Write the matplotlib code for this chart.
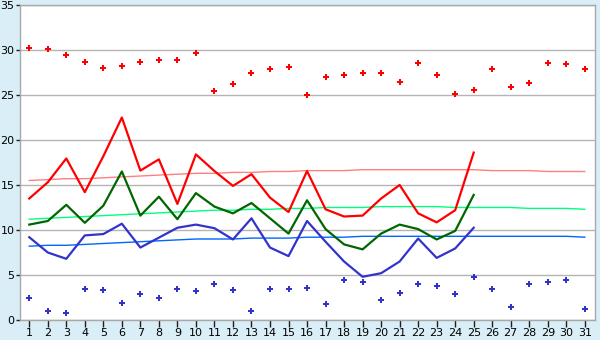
import matplotlib
matplotlib.use("Agg")
import matplotlib.pyplot as plt

days = list(range(1, 32))

record_max = [30.2, 30.1, 29.5, 28.7, 28.0, 28.2, 28.7, 28.9, 28.85, 29.7,
              25.4, 26.2, 27.4, 27.85, 28.1, 25.0, 27.0, 27.2, 27.4, 27.4,
              26.4, 28.55, 27.2, 25.1, 25.6, 27.85, 25.85, 26.3, 28.6, 28.5, 27.85]
record_min = [2.5, 0.95, 0.75, 3.5, 3.3, 1.85, 2.85, 2.4, 3.5, 3.2,
              3.95, 3.3, 1.05, 3.5, 3.5, 3.6, 1.75, 4.5, 4.25, 2.2,
              2.95, 4.05, 3.75, 2.85, 4.75, 3.4, 1.4, 3.95, 4.2, 4.5, 1.2]

obs_days = list(range(1, 26))
obs_max = [13.5, 15.3, 17.95, 14.2, 18.2, 22.5, 16.6, 17.85, 12.9, 18.4,
           16.55, 14.9, 16.2, 13.6, 12.0, 16.55, 12.3, 11.5, 11.6, 13.5,
           15.0, 11.85, 10.85, 12.2, 18.6]
obs_mean = [10.6, 11.0, 12.8, 10.8, 12.7, 16.5, 11.6, 13.7, 11.2, 14.1,
            12.6, 11.85, 13.0, 11.3, 9.6, 13.3, 10.1, 8.4, 7.85, 9.6,
            10.6, 10.1, 8.95, 9.9, 13.9]
obs_min = [9.2, 7.5, 6.8, 9.4, 9.55, 10.7, 8.05, 9.15, 10.25, 10.6,
           10.2, 8.95, 11.3, 8.05, 7.1, 11.0, 8.7, 6.5, 4.8, 5.2,
           6.5, 9.05, 6.9, 7.95, 10.25]

normal_max = [15.5, 15.6, 15.7, 15.7, 15.8, 15.9, 16.0, 16.1, 16.2, 16.3,
              16.3, 16.4, 16.4, 16.5, 16.5, 16.6, 16.6, 16.6, 16.7, 16.7,
              16.7, 16.7, 16.7, 16.7, 16.7, 16.6, 16.6, 16.6, 16.5, 16.5, 16.5]
normal_mean = [11.2, 11.3, 11.4, 11.5, 11.6, 11.7, 11.8, 11.9, 12.0, 12.1,
               12.2, 12.2, 12.3, 12.3, 12.4, 12.4, 12.5, 12.5, 12.5, 12.6,
               12.6, 12.6, 12.6, 12.5, 12.5, 12.5, 12.5, 12.4, 12.4, 12.4, 12.3]
normal_min = [8.2, 8.3, 8.3, 8.4, 8.5, 8.6, 8.7, 8.8, 8.9, 9.0,
              9.0, 9.0, 9.1, 9.1, 9.1, 9.2, 9.2, 9.2, 9.3, 9.3,
              9.3, 9.3, 9.3, 9.3, 9.3, 9.3, 9.3, 9.3, 9.3, 9.3, 9.2]

yticks = [0, 5, 10, 15, 20, 25, 30, 35]

bg = "#d9eef6"
fig = plt.figure(figsize=(6, 3.4), dpi=100, facecolor=bg)
ax = fig.add_axes([20 / 600, 1 - 320 / 340, 575 / 600, 315 / 340])
ax.set_facecolor("white")

for y in yticks:
    ax.axhline(y, color="#b4b4b4", lw=1, zorder=0)

ax.plot(days, normal_max, color="#ff8080", lw=1, zorder=2)
ax.plot(days, normal_mean, color="#00ff80", lw=1, zorder=2)
ax.plot(days, normal_min, color="#0066ff", lw=1, zorder=2)

ax.plot(obs_days, obs_max, color="#ff0000", lw=1.6, zorder=3)
ax.plot(obs_days, obs_mean, color="#006600", lw=1.6, zorder=3)
ax.plot(obs_days, obs_min, color="#3333cc", lw=1.6, zorder=3)

ax.plot(days, record_max, linestyle="none", marker="P", markersize=5,
        color="#ff0000", markeredgewidth=0, zorder=4)
ax.plot(days, record_min, linestyle="none", marker="P", markersize=5,
        color="#3333cc", markeredgewidth=0, zorder=4)

ax.set_xlim(0.5, 31.55)
ax.set_ylim(0, 35)
ax.set_xticks(days)
ax.set_xticklabels([str(d) for d in days])
ax.set_yticks(yticks)
ax.set_yticklabels([str(y) for y in yticks])
for s in ax.spines.values():
    s.set_color("#a8a8a8")
    s.set_linewidth(1)
ax.tick_params(axis="x", length=5, width=1, color="#202020", labelsize=8, pad=1)
ax.tick_params(axis="y", length=3, width=1, color="#202020", labelsize=8, pad=1)

fig.savefig("out.png", dpi=100, facecolor=bg)
